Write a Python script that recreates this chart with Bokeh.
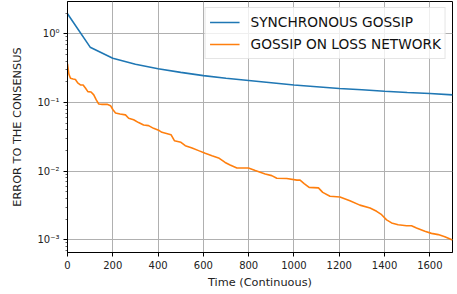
from bokeh.plotting import figure
from bokeh.models import FixedTicker, CustomJSTickFormatter, Range1d, Legend, LegendItem
from bokeh.embed import file_html
from bokeh.resources import INLINE

# ---- data ----
sync_t = [0, 100, 200, 300, 400, 500, 600, 700, 800, 900, 1000, 1100, 1200, 1300, 1400, 1500, 1600, 1700]
sync_err = [1.96, 0.64, 0.44, 0.36, 0.31, 0.275, 0.246, 0.225, 0.209, 0.194, 0.18, 0.17, 0.16, 0.153,
            0.146, 0.14, 0.135, 0.129]

loss_t = [0, 6, 13, 25, 35, 45, 57, 69, 79, 90, 104, 116, 127, 138, 153, 175, 190, 200, 212, 232, 256,
          270, 292, 314, 336, 358, 380, 405, 417, 457, 472, 501, 520, 550, 579, 608, 638, 667, 696, 718,
          748, 777, 799, 829, 873, 902, 924, 968, 1013, 1027, 1045, 1067, 1108, 1127, 1159, 1203, 1247,
          1291, 1336, 1365, 1387, 1409, 1431, 1460, 1497, 1519, 1541, 1578, 1607, 1637, 1666, 1700]
loss_err = [0.365, 0.26, 0.225, 0.22, 0.216, 0.193, 0.18, 0.18, 0.163, 0.144, 0.142, 0.129, 0.109, 0.095,
            0.094, 0.094, 0.090, 0.079, 0.0705, 0.068, 0.066, 0.059, 0.056, 0.051, 0.047, 0.046, 0.042,
            0.039, 0.0368, 0.034, 0.0278, 0.0263, 0.0235, 0.0218, 0.0199, 0.0182, 0.0168, 0.0156, 0.0134,
            0.0123, 0.0111, 0.0111, 0.0111, 0.0102, 0.0091, 0.0086, 0.0079, 0.0078, 0.0074, 0.0074, 0.0066,
            0.0058, 0.0057, 0.0049, 0.0043, 0.0042, 0.0037, 0.0032, 0.0029, 0.0026, 0.00232, 0.00195,
            0.00176, 0.00166, 0.0016, 0.0016, 0.00149, 0.00133, 0.00124, 0.00119, 0.00111, 0.00099]

x_ticks = [0, 200, 400, 600, 800, 1000, 1200, 1400, 1600]
y_ticks = [1e-3, 1e-2, 1e-1, 1e0]
labels = ["SYNCHRONOUS GOSSIP", "GOSSIP ON LOSS NETWORK"]
x_title = "Time (Continuous)"
y_title = "ERROR TO THE CONSENSUS"

FONT = "DejaVu Sans"

p = figure(width=457, height=294, y_axis_type="log", output_backend="svg", toolbar_location=None,
           x_range=Range1d(0, 1700), y_range=Range1d(6.53e-4, 2.96),
           min_border_left=67, min_border_right=5, min_border_top=1, min_border_bottom=42)

p.outline_line_color = "black"
p.outline_line_width = 1
p.background_fill_color = "white"
p.border_fill_color = "white"

r1 = p.line(sync_t, sync_err, line_color="#1f77b4", line_width=1.6)
r2 = p.line(loss_t, loss_err, line_color="#ff7f0e", line_width=1.6)

minor = [m * 10.0 ** k for k in range(-4, 1) for m in range(2, 10)]
p.yaxis.ticker = FixedTicker(ticks=y_ticks, minor_ticks=minor)
p.xaxis.ticker = FixedTicker(ticks=x_ticks)
p.yaxis.formatter = CustomJSTickFormatter(code="""
const sup = {"-": "\u207b", "0": "\u2070", "1": "\u00b9", "2": "\u00b2", "3": "\u00b3", "4": "\u2074"};
const e = Math.round(Math.log10(tick));
return "10" + String(e).split("").map(c => sup[c]).join("");
""")

for ax in (p.xaxis, p.yaxis):
    ax.major_label_text_font = FONT
    ax.major_label_text_font_size = "10px"
    ax.major_label_text_color = "#222222"
    ax.axis_label_text_font = FONT
    ax.axis_label_text_font_size = "11.3px"
    ax.axis_label_text_font_style = "normal"
    ax.axis_label_text_color = "#222222"
    ax.axis_line_color = "black"
    ax.major_tick_line_color = "black"
    ax.major_tick_in = 0
    ax.major_tick_out = 4
    ax.minor_tick_in = 0
    ax.minor_tick_out = 2
    ax.minor_tick_line_color = "black"
    ax.minor_tick_line_width = 0.6

p.xaxis.minor_tick_line_color = None
p.xaxis.axis_label = x_title
p.yaxis.axis_label = y_title
p.xaxis.major_label_standoff = 4
p.xaxis.axis_label_standoff = 4
p.yaxis.major_label_standoff = 4
p.yaxis.axis_label_standoff = 10

p.xgrid.grid_line_color = "#b0b0b0"
p.ygrid.grid_line_color = "#b0b0b0"
p.xgrid.grid_line_width = 1
p.ygrid.grid_line_width = 1

legend = Legend(items=[LegendItem(label=labels[0], renderers=[r1]),
                       LegendItem(label=labels[1], renderers=[r2])],
                location="top_right")
legend.margin = 6
legend.padding = 4
legend.spacing = 2
legend.glyph_width = 30
legend.glyph_height = 20
legend.label_standoff = 11
legend.label_text_font = FONT
legend.label_text_font_size = "13.7px"
legend.label_text_color = "#111111"
legend.border_line_color = "#cccccc"
legend.background_fill_alpha = 0.8
p.add_layout(legend)

open("out.html", "w").write(file_html(p, INLINE))
